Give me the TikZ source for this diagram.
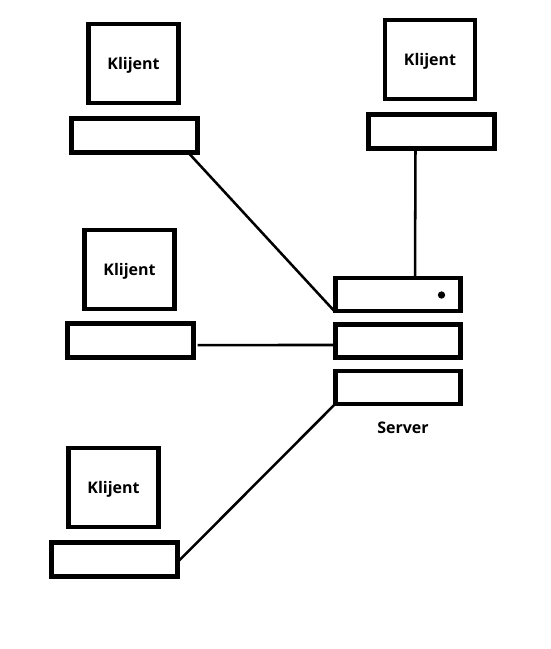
\documentclass[tikz,border=0pt]{standalone}
\usepackage{fontspec}
\setmainfont{Open Sans}
\begin{document}
\begin{tikzpicture}[x=0.75pt, y=-0.75pt]
    % Define styles
    \tikzset{
        monitorbox/.style={draw, line width=3.4pt, outer sep=0pt, minimum width=67.5pt, minimum height=59pt, inner sep=0pt, text depth=0pt, font=\fontsize{12pt}{14pt}\selectfont\bfseries},
        keyboardbox/.style={draw, line width=3.4pt, outer sep=0pt, minimum width=94.5pt, minimum height=25.5pt, inner sep=0pt},
        serverbox/.style={draw, line width=3.4pt, outer sep=0pt, minimum width=94pt, minimum height=24.5pt, inner sep=0pt},
        thickline/.style={line width=1.9pt},
        serverlabel/.style={inner sep=0pt, text depth=0pt, font=\fontsize{12pt}{14pt}\selectfont\bfseries}
    }
    \useasboundingbox (0,0) rectangle (550,649);

    % Clients
    \node[monitorbox] (m1) at (133.5,63.5) {Klijent};
    \node[keyboardbox] (k1) at (134.5,135.5) {};
    \node[monitorbox] (m2) at (430,59.5) {Klijent};
    \node[keyboardbox] (k2) at (431.5,131.5) {};
    \node[monitorbox] (m3) at (129.5,269.5) {Klijent};
    \node[keyboardbox] (k3) at (130.5,340.5) {};
    \node[monitorbox] (m4) at (113.5,487.5) {Klijent};
    \node[keyboardbox] (k4) at (114.5,559.5) {};

    % Server
    \node[serverbox] (s1) at (398,294.5) {};
    \node[serverbox] (s2) at (398,341) {};
    \node[serverbox] (s3) at (398,387.5) {};
    \node[serverlabel] (slabel) at (403,428) {Server};
    \node[circle, fill=black, inner sep=0pt, minimum size=5.5pt] (led) at (441.5,295) {};

    % Connections
    \draw[thickline] ([xshift=-7pt]k1.south east) -- ([yshift=-1pt]s1.south west);
    \draw[thickline] ([xshift=-12pt]k2.south) -- ([xshift=12.75pt]s1.north);
    \draw[thickline] ([xshift=3pt, yshift=-3.4pt]k3.east) -- ([yshift=-3pt]s2.west);
    \draw[thickline] ([yshift=-2pt]k4.east) -- (s3.south west);
\end{tikzpicture}
\end{document}
